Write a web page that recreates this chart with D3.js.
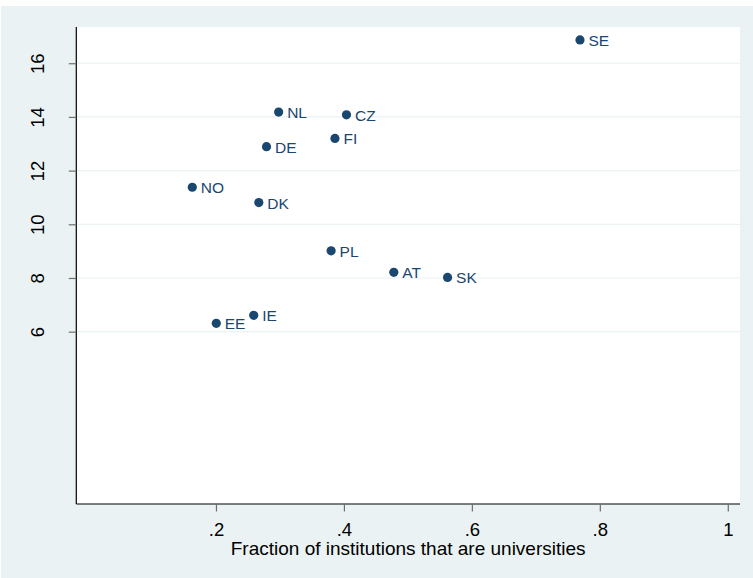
<!DOCTYPE html>
<html>
<head>
<meta charset="utf-8">
<script src="https://cdn.jsdelivr.net/npm/d3@7"></script>
<style>
  html, body { margin: 0; padding: 0; background: #ffffff; }
  svg { display: block; }
  text { font-family: "Liberation Sans", Arial, sans-serif; }
</style>
</head>
<body>
<svg id="chart" width="753" height="578"></svg>
<script>
// Data
const countries = ["SE", "NL", "CZ", "FI", "DE", "NO", "DK", "PL", "AT", "SK", "IE", "EE"];
const fractionUniv = [0.769, 0.298, 0.404, 0.386, 0.279, 0.163, 0.267, 0.380, 0.478, 0.562, 0.259, 0.2005];
const yValues = [16.87, 14.18, 14.08, 13.20, 12.89, 11.38, 10.81, 9.01, 8.21, 8.02, 6.61, 6.31];
const xTicks = [0.2, 0.4, 0.6, 0.8, 1];
const yTicks = [6, 8, 10, 12, 14, 16];
const xTitle = "Fraction of institutions that are universities";

const W = 753, H = 578;
const plot = { left: 76.3, right: 740, top: 27, bottom: 504 };

const svg = d3.select("#chart");

// outer background
svg.append("rect").attr("x", 1).attr("y", 6).attr("width", W - 1).attr("height", H - 6)
  .attr("fill", "#eaf2f3");
// plot region
svg.append("rect").attr("x", plot.left).attr("y", plot.top)
  .attr("width", plot.right - plot.left).attr("height", plot.bottom - plot.top)
  .attr("fill", "#ffffff");

const x = d3.scaleLinear().domain([-0.0183, 1.0191]).range([plot.left, plot.right]);
const y = d3.scaleLinear().domain([-0.42, 17.35]).range([plot.bottom, plot.top]);

// gridlines
svg.append("g").selectAll("line").data(yTicks).join("line")
  .attr("x1", plot.left).attr("x2", plot.right)
  .attr("y1", d => y(d)).attr("y2", d => y(d))
  .attr("stroke", "#eaf2f3").attr("stroke-width", 1.2);

// y axis
const yAxis = svg.append("g").attr("transform", `translate(${plot.left},0)`)
  .call(d3.axisLeft(y).tickValues(yTicks).tickSize(7.5).tickSizeOuter(0).tickFormat(d3.format("d")));
yAxis.select(".domain").attr("stroke", "#000").attr("stroke-width", 1.2)
  .attr("d", `M0,${plot.top}V${plot.bottom}`);
yAxis.selectAll(".tick line").attr("stroke", "#6e6e6e").attr("stroke-width", 1.2);
yAxis.selectAll(".tick text")
  .attr("font-size", 18.5).attr("fill", "#000")
  .attr("x", null).attr("dy", null)
  .attr("text-anchor", "middle")
  .attr("transform", "translate(-32,0) rotate(-90)");

// x axis
const xAxis = svg.append("g").attr("transform", `translate(0,${plot.bottom})`)
  .call(d3.axisBottom(x).tickValues(xTicks).tickSize(7.5).tickSizeOuter(0)
    .tickFormat(d => d === 1 ? "1" : d3.format(".1f")(d).replace(/^0/, "")));
xAxis.select(".domain").attr("stroke", "#000").attr("stroke-width", 1.2)
  .attr("d", `M${plot.left},0H${plot.right}`);
xAxis.selectAll(".tick line").attr("stroke", "#6e6e6e").attr("stroke-width", 1.2);
xAxis.selectAll(".tick text")
  .attr("font-size", 18.5).attr("fill", "#000")
  .attr("y", 32).attr("dy", null);

// x title
svg.append("text").attr("x", (plot.left + plot.right) / 2).attr("y", 555)
  .attr("text-anchor", "middle").attr("font-size", 19).attr("fill", "#000")
  .text(xTitle);

// points
const data = countries.map((c, i) => ({ c, fx: fractionUniv[i], fy: yValues[i] }));
const pts = svg.append("g");
pts.selectAll("circle").data(data).join("circle")
  .attr("cx", d => x(d.fx)).attr("cy", d => y(d.fy)).attr("r", 4.6)
  .attr("fill", "#1a476f");
pts.selectAll("text").data(data).join("text")
  .attr("x", d => x(d.fx) + 8.5).attr("y", d => y(d.fy) + 6)
  .attr("font-size", 15.5).attr("fill", "#1a476f")
  .text(d => d.c);
</script>
</body>
</html>
